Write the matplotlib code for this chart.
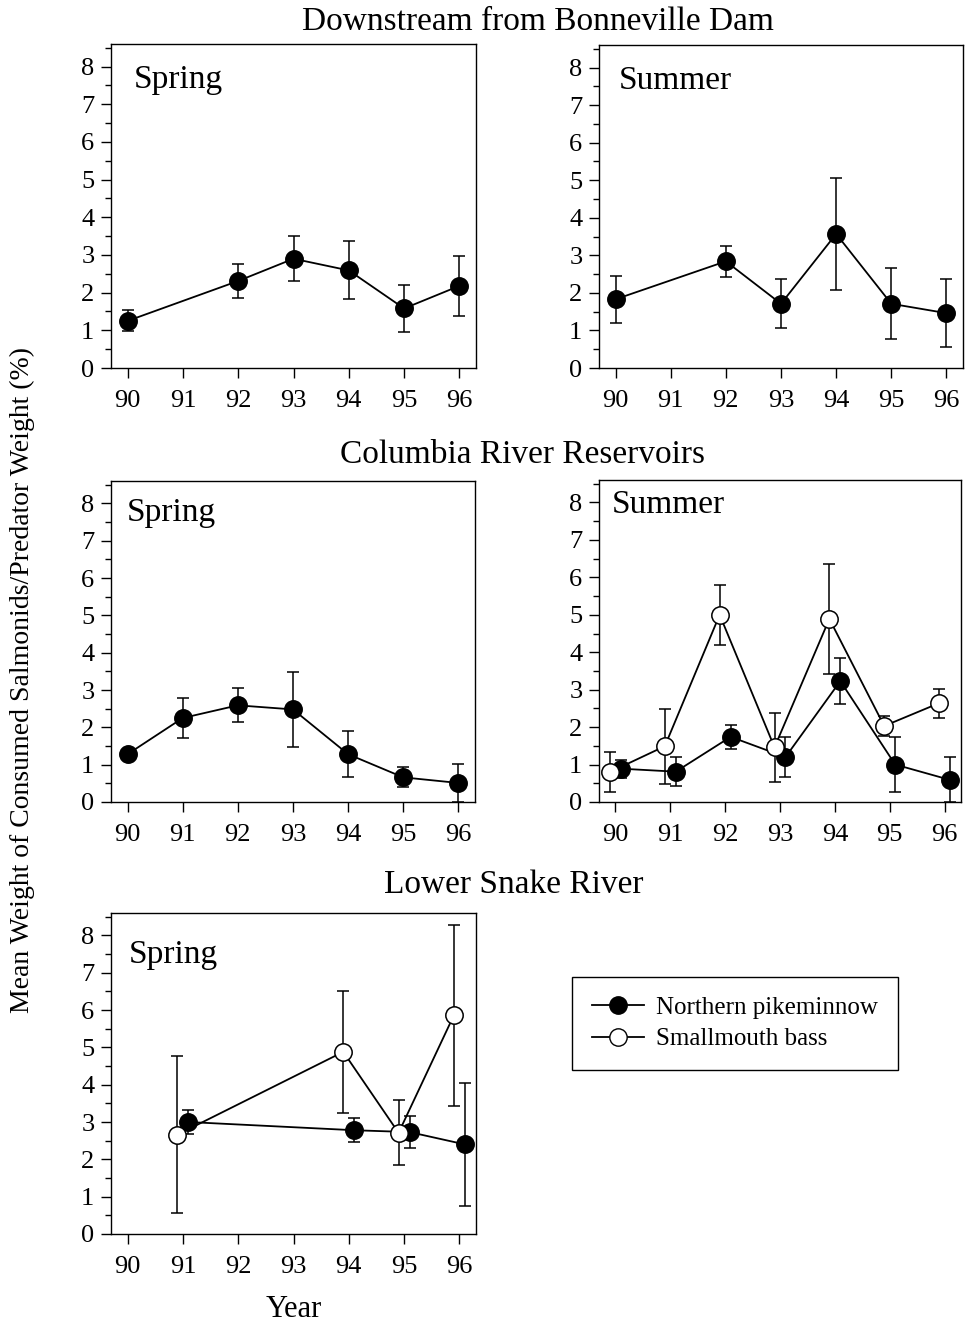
import matplotlib
matplotlib.use("Agg")
import matplotlib.pyplot as plt
from matplotlib.ticker import MultipleLocator

plt.rcParams["font.family"] = ["Liberation Serif", "DejaVu Serif"]

YEARS = [90, 91, 92, 93, 94, 95, 96]

# Downstream from Bonneville Dam, spring (northern pikeminnow)
dn_spring_x = [90, 92, 93, 94, 95, 96]
dn_spring_y = [1.25, 2.31, 2.90, 2.59, 1.58, 2.18]
dn_spring_e = [0.28, 0.46, 0.60, 0.77, 0.63, 0.80]

# Downstream from Bonneville Dam, summer
dn_summer_x = [90, 92, 93, 94, 95, 96]
dn_summer_y = [1.83, 2.84, 1.71, 3.57, 1.71, 1.46]
dn_summer_e = [0.63, 0.41, 0.65, 1.49, 0.95, 0.90]

# Columbia River reservoirs, spring
res_spring_x = [90, 91, 92, 93, 94, 95, 96]
res_spring_y = [1.28, 2.25, 2.59, 2.48, 1.28, 0.66, 0.51]
res_spring_e = [0.12, 0.54, 0.46, 1.00, 0.62, 0.27, 0.50]

# Columbia River reservoirs, summer
res_summer_pm_x = [90, 91, 92, 93, 94, 95, 96]
res_summer_pm_y = [0.89, 0.81, 1.74, 1.20, 3.23, 1.00, 0.59]
res_summer_pm_e = [0.24, 0.38, 0.32, 0.54, 0.62, 0.74, 0.60]
res_summer_sb_x = [90, 91, 92, 93, 94, 95, 96]
res_summer_sb_y = [0.80, 1.49, 5.00, 1.46, 4.89, 2.03, 2.64]
res_summer_sb_e = [0.53, 1.00, 0.80, 0.93, 1.46, 0.28, 0.39]

# Lower Snake River, spring
snake_pm_x = [91, 94, 95, 96]
snake_pm_y = [3.00, 2.78, 2.73, 2.40]
snake_pm_e = [0.31, 0.32, 0.43, 1.65]
snake_sb_x = [91, 94, 95, 96]
snake_sb_y = [2.66, 4.88, 2.71, 5.86]
snake_sb_e = [2.10, 1.63, 0.87, 2.43]

W, H = 965, 1322
fig = plt.figure(figsize=(W / 100, H / 100), dpi=100)


def make_ax(left, top, right, bottom):
    return fig.add_axes([left / W, 1 - bottom / H, (right - left) / W, (bottom - top) / H])


def style(ax, label, lx, ly):
    ax.set_xlim(89.7, 96.3)
    ax.set_ylim(0, 8.6)
    ax.set_xticks(YEARS)
    ax.set_yticks(range(0, 9))
    ax.yaxis.set_minor_locator(MultipleLocator(0.5))
    ax.tick_params(axis="both", which="major", direction="out", length=7, width=1,
                   labelsize=19)
    ax.tick_params(axis="x", pad=9)
    ax.tick_params(axis="y", pad=5)
    ax.tick_params(axis="y", which="minor", direction="out", length=4, width=1)
    for s in ax.spines.values():
        s.set_linewidth(1)
    ax.text(lx, ly, label, transform=ax.transAxes, fontsize=24, ha="left", va="center")


def series(ax, x, y, e, filled, offset=0.0):
    xs = [v + offset for v in x]
    ax.errorbar(xs, y, yerr=e, color="black", lw=1.3, elinewidth=1.1, capsize=4.5,
                capthick=1.1, marker="o", ms=12.5,
                mfc="black" if filled else "white", mec="black", mew=1.1, zorder=3)


ax1 = make_ax(111, 44, 476, 368)
series(ax1, dn_spring_x, dn_spring_y, dn_spring_e, True)
style(ax1, "Spring", 0.063, 0.889)

ax2 = make_ax(599, 45, 963, 368)
series(ax2, dn_summer_x, dn_summer_y, dn_summer_e, True)
style(ax2, "Summer", 0.055, 0.889)

ax3 = make_ax(111, 481, 475, 802)
series(ax3, res_spring_x, res_spring_y, res_spring_e, True)
style(ax3, "Spring", 0.044, 0.90)

ax4 = make_ax(599, 480, 961, 802)
series(ax4, res_summer_pm_x, res_summer_pm_y, res_summer_pm_e, True, 0.1)
series(ax4, res_summer_sb_x, res_summer_sb_y, res_summer_sb_e, False, -0.1)
style(ax4, "Summer", 0.036, 0.922)

ax5 = make_ax(111, 913, 476, 1234)
series(ax5, snake_pm_x, snake_pm_y, snake_pm_e, True, 0.1)
series(ax5, snake_sb_x, snake_sb_y, snake_sb_e, False, -0.1)
style(ax5, "Spring", 0.049, 0.869)
ax5.set_xlabel("Year", fontsize=22, labelpad=12)

fig.text(538 / W, 1 - 22 / H, "Downstream from Bonneville Dam", fontsize=24,
         ha="center", va="center")
fig.text(522 / W, 1 - 455 / H, "Columbia River Reservoirs", fontsize=24,
         ha="center", va="center")
fig.text(514 / W, 1 - 885 / H, "Lower Snake River", fontsize=24,
         ha="center", va="center")
fig.text(22 / W, 1 - 680 / H, "Mean Weight of Consumed Salmonids/Predator Weight (%)",
         fontsize=20, rotation=90, ha="center", va="center")

h_pm = plt.Line2D([], [], color="black", lw=1.3, marker="o", ms=12.5, mfc="black", mec="black")
h_sb = plt.Line2D([], [], color="black", lw=1.3, marker="o", ms=12.5, mfc="white", mec="black")
leg = fig.legend([h_pm, h_sb], ["Northern pikeminnow", "Smallmouth bass"],
                 loc="upper left", bbox_to_anchor=(572 / W, 1 - 977 / H),
                 borderaxespad=0, fontsize=18, frameon=True, fancybox=False,
                 edgecolor="black", framealpha=1, handlelength=2.1,
                 handletextpad=0.5, borderpad=0.78, labelspacing=0.35)
leg.get_frame().set_linewidth(1)

fig.savefig("out.png", dpi=100)
